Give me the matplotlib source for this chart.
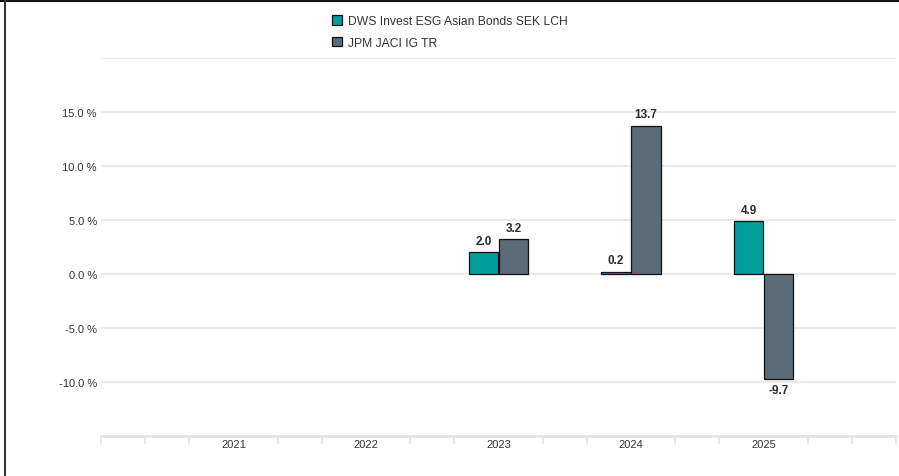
import numpy as np
import matplotlib
matplotlib.use("Agg")
import matplotlib.pyplot as plt
from matplotlib.lines import Line2D

# --- Data ---
YEARS = [2021, 2022, 2023, 2024, 2025]
FUND_NAME = "DWS Invest ESG Asian Bonds SEK LCH"
BENCH_NAME = "JPM JACI IG TR"
FUND_VALUES = [np.nan, np.nan, 2.0, 0.2, 4.9]
BENCH_VALUES = [np.nan, np.nan, 3.2, 13.7, -9.7]

# --- Style ---
FUND_COLOR = "#009e9b"
BENCH_COLOR = "#5b6b78"
GRID_COLOR = "#e8e8e8"
TEXT_COLOR = "#333333"
BAR_WIDTH = 0.225

plt.rcParams["font.family"] = ["Liberation Sans", "DejaVu Sans"]

W, H = 899, 477
fig = plt.figure(figsize=(W / 100, H / 100), dpi=100)
ax = fig.add_axes([101 / W, 40 / H, 795 / W, 378 / H])

x = np.array(YEARS, dtype=float)
fund_bars = ax.bar(x - BAR_WIDTH / 2, FUND_VALUES, BAR_WIDTH, color=FUND_COLOR,
                   edgecolor="#111111", linewidth=0.9, zorder=3, label=FUND_NAME)
bench_bars = ax.bar(x + BAR_WIDTH / 2, BENCH_VALUES, BAR_WIDTH, color=BENCH_COLOR,
                    edgecolor="#111111", linewidth=0.9, zorder=3, label=BENCH_NAME)

# value labels above / below bars
for bars, vals in ((fund_bars, FUND_VALUES), (bench_bars, BENCH_VALUES)):
    for rect, v in zip(bars, vals):
        if np.isnan(v):
            continue
        cx = rect.get_x() + rect.get_width() / 2
        if v >= 0:
            ax.annotate(f"{v:.1f}", (cx, v), xytext=(0, 4), textcoords="offset points",
                        ha="center", va="bottom", fontsize=8.5, fontweight="bold",
                        color="#2b2b2b", zorder=4)
        else:
            ax.annotate(f"{v:.1f}", (cx, v), xytext=(0, -3.5), textcoords="offset points",
                        ha="center", va="top", fontsize=8.5, fontweight="bold",
                        color="#2b2b2b", zorder=4)

# axes limits and grid
ax.set_xlim(YEARS[0] - 1, YEARS[-1] + 1)
ax.set_ylim(-15, 20)
yt = np.arange(-10, 25, 5)
ax.set_yticks(yt)
ax.set_yticklabels([f"{t:.1f} %" if t < 20 else "" for t in yt])
ax.yaxis.grid(True, color=GRID_COLOR, linewidth=1.3, zorder=0)
ax.tick_params(axis="y", length=0, pad=3, labelsize=8, labelcolor=TEXT_COLOR)

ax.set_xticks(YEARS)
ax.set_xticklabels([str(y) for y in YEARS])
minor = [YEARS[0] - 1 + k / 3 for k in range(19) if k % 3 != 0 or k in (0, 18)]
ax.set_xticks(minor, minor=True)
ax.tick_params(axis="x", which="major", length=0, pad=2, labelsize=8, labelcolor=TEXT_COLOR)
ax.tick_params(axis="x", which="minor", length=6, width=1.2, color="#e4e4e4")

for side in ("top", "right", "left"):
    ax.spines[side].set_visible(False)
ax.spines["bottom"].set_color("#e4e4e4")
ax.spines["bottom"].set_linewidth(2)

# legend at top
fig.legend(handles=[fund_bars, bench_bars], labels=[FUND_NAME, BENCH_NAME],
           loc="upper left", bbox_to_anchor=(321 / W, 1 - 5 / H), frameon=False,
           fontsize=8.7, handlelength=0.85, handleheight=0.85, handletextpad=0.45,
           labelspacing=0.8, labelcolor=TEXT_COLOR)

# outer frame (top and left edges)
fig.add_artist(Line2D([0, 1], [1 - 1.5 / H, 1 - 1.5 / H], color="#111111", linewidth=1.5,
                      transform=fig.transFigure))
fig.add_artist(Line2D([4.5 / W, 4.5 / W], [0, 1], color="#333333", linewidth=1.5,
                      transform=fig.transFigure))

fig.savefig("out.png", dpi=100)
